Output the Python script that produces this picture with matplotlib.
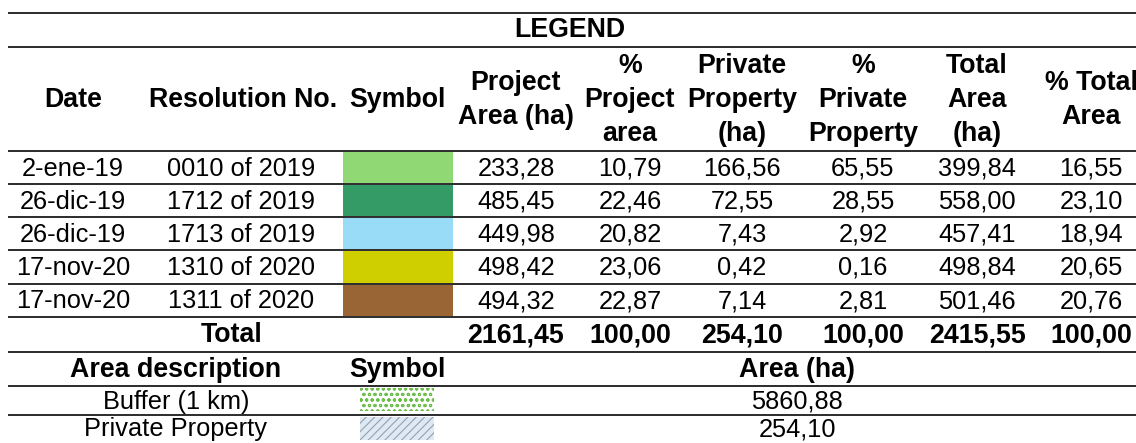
import matplotlib
matplotlib.use("Agg")
import matplotlib.pyplot as plt
from matplotlib.patches import Rectangle

plt.rcParams['font.family'] = ['Liberation Sans', 'DejaVu Sans']
plt.rcParams['hatch.linewidth'] = 0.8

# ---- data ----
title = "LEGEND"
headers = ["Date", "Resolution No.", "Symbol", "Project\nArea (ha)", "%\nProject\narea",
           "Private\nProperty\n(ha)", "%\nPrivate\nProperty", "Total\nArea\n(ha)", "% Total\nArea"]
dates = ["2-ene-19", "26-dic-19", "26-dic-19", "17-nov-20", "17-nov-20"]
resolutions = ["0010 of 2019", "1712 of 2019", "1713 of 2019", "1310 of 2020", "1311 of 2020"]
symbol_colors = ["#90d873", "#349a66", "#98dcf7", "#cfcf00", "#9a6534"]
project_area = ["233,28", "485,45", "449,98", "498,42", "494,32"]
pct_project = ["10,79", "22,46", "20,82", "23,06", "22,87"]
private_prop = ["166,56", "72,55", "7,43", "0,42", "7,14"]
pct_private = ["65,55", "28,55", "2,92", "0,16", "2,81"]
total_area = ["399,84", "558,00", "457,41", "498,84", "501,46"]
pct_total = ["16,55", "23,10", "18,94", "20,65", "20,76"]
total_label = "Total"
totals = ["2161,45", "100,00", "254,10", "100,00", "2415,55", "100,00"]
area_headers = ["Area description", "Symbol", "Area (ha)"]
area_desc = ["Buffer (1 km)", "Private Property"]
area_values = ["5860,88", "254,10"]

# ---- layout ----
W, H = 1136, 443
fig = plt.figure(figsize=(W / 100, H / 100), dpi=100)
ax = fig.add_axes([0, 0, 1, 1])
ax.set_xlim(0, W)
ax.set_ylim(H, 0)
ax.axis('off')

x0, x1 = 8, 1136
lines_y = [13, 47, 151, 184, 217, 250, 284, 317, 352, 386, 415]
for y in lines_y:
    ax.plot([x0, x1], [y, y], color="#1a1a1a", lw=1.3, solid_capstyle='butt')

fs = 18.3
fsb = 19.3
col_x = [73, 243, 397, 516, 630, 742, 863, 977, 1091]

ax.text(570, 30, title, ha='center', va='center', fontsize=fsb, fontweight='bold')

# header
for cx, h in zip(col_x, headers):
    ax.text(cx, 100, h, ha='center', va='center', fontsize=fsb, fontweight='bold',
            linespacing=1.42, multialignment='center')

row_tops = lines_y[2:7]
row_bots = lines_y[3:8]
cols = [project_area, pct_project, private_prop, pct_private, total_area, pct_total]
for i in range(len(dates)):
    yc = (row_tops[i] + row_bots[i]) / 2 + 1
    ax.text(col_x[0], yc, dates[i], ha='center', va='center', fontsize=fs)
    ax.text(col_x[1] - 2, yc, resolutions[i], ha='center', va='center', fontsize=fs)
    ax.add_patch(Rectangle((343, row_tops[i] + 1), 110, row_bots[i] - row_tops[i] - 2,
                           facecolor=symbol_colors[i], edgecolor='none'))
    for j, c in enumerate(cols):
        ax.text(col_x[3 + j], yc, c[i], ha='center', va='center', fontsize=fs)

# total row
yt = (317 + 352) / 2 + 1
ax.text(232, yt, total_label, ha='center', va='center', fontsize=fsb, fontweight='bold')
for j, t in enumerate(totals):
    ax.text(col_x[3 + j], yt, t, ha='center', va='center', fontsize=fsb, fontweight='bold')

# area section
ya = (352 + 386) / 2 + 1
ax.text(176, ya, area_headers[0], ha='center', va='center', fontsize=fsb, fontweight='bold')
ax.text(397, ya, area_headers[1], ha='center', va='center', fontsize=fsb, fontweight='bold')
ax.text(797, ya, area_headers[2], ha='center', va='center', fontsize=fsb, fontweight='bold')

area_rows_y = [(386 + 415) / 2 + 1, (415 + 443) / 2]
for i in range(len(area_desc)):
    ax.text(176, area_rows_y[i], area_desc[i], ha='center', va='center', fontsize=fs)
    ax.text(797, area_rows_y[i], area_values[i], ha='center', va='center', fontsize=fs)

# buffer symbol
ax.add_patch(Rectangle((360, 388), 74, 23, facecolor='white', edgecolor='#6cbf4a',
                       hatch='ooo', lw=0))
# private property symbol
ax.add_patch(Rectangle((360, 417), 74, 23, facecolor='#dde9f5', edgecolor='#9a9fa8',
                       hatch='////', lw=0))

fig.savefig("out.png", dpi=100)
